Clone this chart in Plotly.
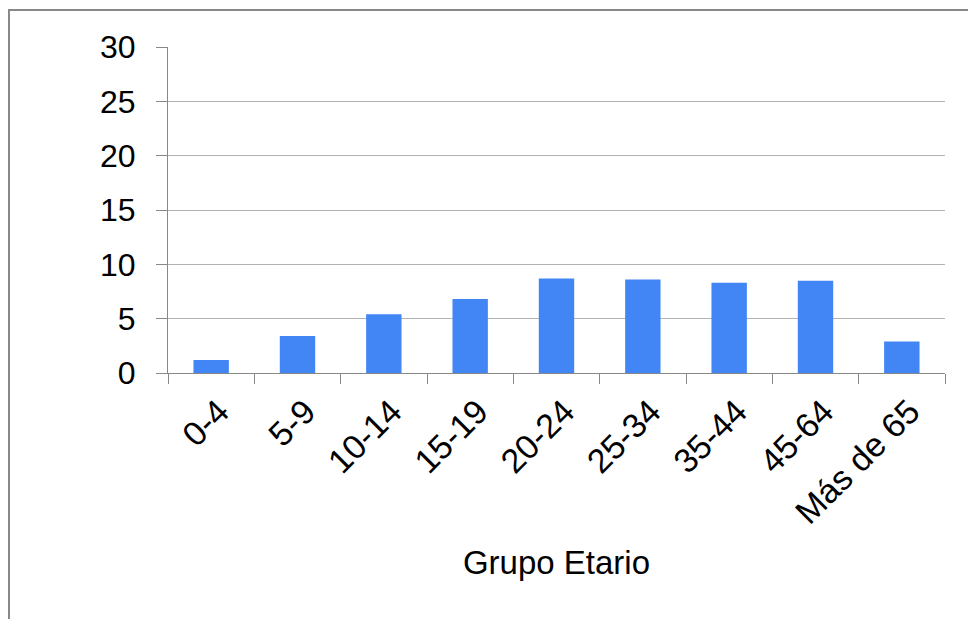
import plotly.graph_objects as go

categories = ["0-4", "5-9", "10-14", "15-19", "20-24", "25-34", "35-44", "45-64", "Más de 65"]
values = [1.2, 3.4, 5.4, 6.8, 8.7, 8.6, 8.3, 8.5, 2.9]
y_ticks = [0, 5, 10, 15, 20, 25, 30]
x_title = "Grupo Etario"

W, H = 968, 619
L, R, T, B = 168, 23, 47, 246
pw, ph = W - L - R, H - T - B

def px_to_paper_x(px):
    return (px - L) / pw

def px_to_paper_y(py):
    return (H - B - py) / ph

fig = go.Figure(
    go.Bar(
        x=categories,
        y=values,
        marker=dict(color="#4285F4", line=dict(width=0)),
    )
)

font = dict(family="Liberation Sans, Arial, sans-serif", color="#000000")

fig.update_layout(
    width=W,
    height=H,
    autosize=False,
    margin=dict(l=L, r=R, t=T, b=B, pad=0),
    paper_bgcolor="white",
    plot_bgcolor="white",
    bargap=0.59,
    showlegend=False,
    font=font,
    xaxis=dict(
        type="category",
        tickson="boundaries",
        ticks="outside",
        ticklen=10,
        tickwidth=1,
        tickcolor="#888888",
        showline=True,
        linecolor="#888888",
        linewidth=1,
        showgrid=False,
        tickangle=-45,
        tickfont=dict(size=34, family=font["family"], color="#000"),
        ticklabelshift=8,
        ticklabelstandoff=4,
        title=dict(text=x_title, font=dict(size=33, family=font["family"], color="#000"), standoff=20),
    ),
    yaxis=dict(
        range=[0, 30],
        tickvals=y_ticks,
        ticks="outside",
        ticklen=11,
        tickwidth=1,
        tickcolor="#888888",
        showline=True,
        linecolor="#888888",
        linewidth=1,
        showgrid=True,
        gridcolor="#b3b3b3",
        gridwidth=1,
        zeroline=False,
        tickfont=dict(size=32, family=font["family"], color="#000"),
        ticklabelstandoff=14,
    ),
    shapes=[
        dict(
            type="rect",
            xref="paper",
            yref="paper",
            x0=px_to_paper_x(9),
            x1=px_to_paper_x(W + 20),
            y0=px_to_paper_y(H + 20),
            y1=px_to_paper_y(10),
            line=dict(color="#888888", width=2),
            fillcolor="rgba(0,0,0,0)",
            layer="below",
        )
    ],
)

fig.write_html("out.html")
